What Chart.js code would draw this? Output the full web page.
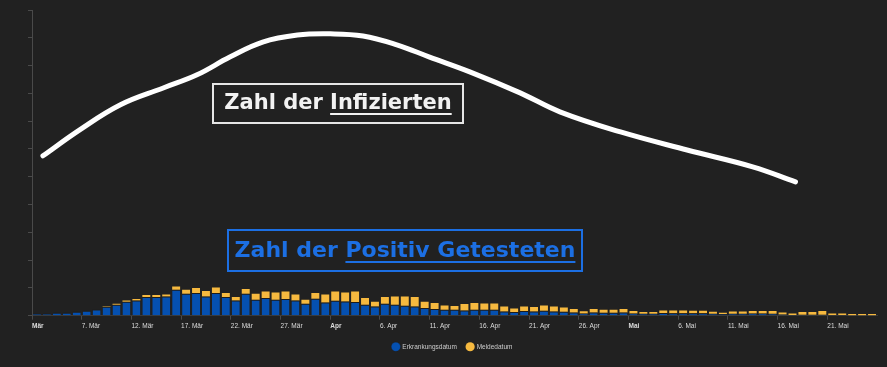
<!DOCTYPE html>
<html>
<head>
<meta charset="utf-8">
<script src="https://cdn.jsdelivr.net/npm/chart.js@4.4.0/dist/chart.umd.min.js"></script>
<style>
    html, body { margin: 0; padding: 0; background: #212121; }
    #wrap { position: relative; width: 887px; height: 367px; }
    #statsChart { display: block; }
    .note { position: absolute; box-sizing: border-box; font-family: "DejaVu Sans", sans-serif; font-weight: bold; white-space: nowrap; text-align: center; }
    .note u { text-decoration-thickness: 2px; text-underline-offset: 4px; }
    #noteInf { left: 212px; top: 83px; width: 252px; height: 41px; border: 2px solid #e6e6e6; color: #f2f2f2; font-size: 21px; line-height: 35px; }
    #notePos { left: 227px; top: 229px; width: 356px; height: 43px; border: 2px solid #1c6fe3; color: #1c6fe3; font-size: 22px; line-height: 37px; }
</style>
</head>
<body>
<div id="wrap">
    <canvas id="statsChart" width="887" height="367"></canvas>
    <div class="note" id="noteInf">Zahl der <u>Infizierten</u></div>
    <div class="note" id="notePos">Zahl der <u>Positiv Getesteten</u></div>
</div>
<script>
// days counted from the start of 1. Mär (day 0); first bar is 2. Mär
const firstDay = 1;
const lastDay = 86;

// cases by Erkrankungsdatum, 2. Mär .. 25. Mai
const erkrankung = [
    288, 288, 432, 432, 576, 720, 907, 1296, 1584, 2016, 2203, 2693, 2693, 2779, 3744, 3168, 3269, 2779, 3269, 2693, 2203, 3168,
    2304, 2549, 2304, 2405, 2203, 1728, 2448, 1915, 2160, 2059, 1973, 1584, 1339, 1728, 1584, 1440, 1339, 1109, 965, 864, 864,
    763, 864, 864, 864, 619, 533, 677, 619, 720, 619, 576, 475, 331, 475, 432, 432, 475, 331, 288, 288, 389,
    360, 360, 346, 346, 288, 230, 288, 288, 317, 317, 288, 187, 115, 144, 144, 144, 86, 86, 72, 72, 72
];

// cases only known by Meldedatum, stacked on top
const meldung = [
    0, 0, 0, 0, 0, 0, 0, 72, 144, 187, 202, 288, 288, 288, 475, 576, 720, 778, 806, 576, 490, 677,
    864, 950, 1051, 1094, 864, 576, 821, 1152, 1339, 1296, 1526, 965, 677, 965, 1195, 1339, 1354, 907, 864, 619, 533,
    922, 965, 907, 907, 720, 518, 662, 634, 763, 720, 619, 490, 317, 490, 432, 432, 504, 346, 259, 259, 360,
    403, 403, 374, 374, 288, 202, 331, 331, 360, 360, 389, 288, 216, 389, 389, 533, 245, 245, 173, 173, 173
];

// x-axis ticks
const tickDays = [1, 6, 11, 16, 21, 26, 31, 36, 41, 46, 51, 56, 61, 66, 71, 76, 81];
const tickLabels = ['Mär', '7. Mär', '12. Mär', '17. Mär', '22. Mär', '27. Mär', 'Apr', '6. Apr', '11. Apr',
    '16. Apr', '21. Apr', '26. Apr', 'Mai', '6. Mai', '11. Mai', '16. Mai', '21. Mai'];
const boldLabels = ['Mär', 'Apr', 'Mai'];

// hand drawn "Infizierte" curve (own hidden scale 0..100)
const curveDays = [2.1, 5.8, 9.9, 14.2, 17.6, 20.9, 24.2, 27.7, 31.0, 34.3, 37.7, 41.0, 45.1, 50.1, 54.1, 60.2, 66.9, 73.5, 77.8];
const curveValues = [52.3, 60.8, 69.0, 74.5, 78.8, 84.6, 89.5, 91.8, 92.2, 91.5, 88.6, 84.6, 79.7, 72.9, 66.7, 60.1, 54.2, 48.7, 43.8];

document.addEventListener('DOMContentLoaded', function () {
    const ctx = document.getElementById('statsChart').getContext('2d');
    const toPoints = arr => arr.map((v, i) => ({ x: firstDay + i + 0.5, y: v }));

    new Chart(ctx, {
        type: 'bar',
        data: {
            datasets: [{
                label: 'Erkrankungsdatum',
                data: toPoints(erkrankung),
                backgroundColor: '#0550b0',
                borderColor: '#1c1c1c',
                borderWidth: { top: 1, left: 0, right: 0, bottom: 0 },
                borderSkipped: 'bottom',
                categoryPercentage: 1,
                barPercentage: 0.8,
                order: 2
            }, {
                label: 'Meldedatum',
                data: toPoints(meldung),
                backgroundColor: '#f6b93f',
                borderWidth: 0,
                categoryPercentage: 1,
                barPercentage: 0.8,
                order: 2
            }, {
                type: 'line',
                label: 'Infizierte',
                data: curveDays.map((d, i) => ({ x: d, y: curveValues[i] })),
                yAxisID: 'y2',
                borderColor: '#ffffff',
                borderWidth: 5,
                borderCapStyle: 'round',
                pointRadius: 0,
                tension: 0.4,
                clip: false,
                order: 1
            }]
        },
        options: {
            responsive: false,
            animation: false,
            layout: { padding: { left: 28, right: 10, top: 10, bottom: 7 } },
            plugins: {
                tooltip: { enabled: false },
                legend: {
                    position: 'bottom',
                    labels: {
                        filter: item => item.datasetIndex < 2,
                        usePointStyle: true,
                        pointStyle: 'circle',
                        color: '#cccccc',
                        padding: 10,
                        font: { family: 'Liberation Sans', size: 6.5 }
                    }
                }
            },
            scales: {
                x: {
                    type: 'linear',
                    min: firstDay,
                    max: lastDay,
                    offset: false,
                    stacked: true,
                    afterBuildTicks: scale => { scale.ticks = tickDays.map(v => ({ value: v })); },
                    grid: { drawOnChartArea: false, color: '#4a4a4a', tickLength: 4, offset: false },
                    border: { color: '#3a3a3a' },
                    ticks: {
                        autoSkip: false,
                        maxRotation: 0,
                        align: 'start',
                        padding: 3,
                        color: '#dddddd',
                        font: c => ({
                            family: 'Liberation Sans',
                            size: 6.5,
                            weight: boldLabels.includes(tickLabels[c.index]) ? 'bold' : 'normal'
                        }),
                        callback: (v, i) => tickLabels[i]
                    }
                },
                y: {
                    stacked: true,
                    min: 0,
                    max: 44000,
                    ticks: { display: false, stepSize: 4000 },
                    grid: { drawOnChartArea: false, color: '#4a4a4a', tickLength: 4 },
                    border: { color: '#4a4a4a' }
                },
                y2: {
                    display: false,
                    min: 0,
                    max: 100
                }
            }
        }
    });
});
</script>
</body>
</html>
